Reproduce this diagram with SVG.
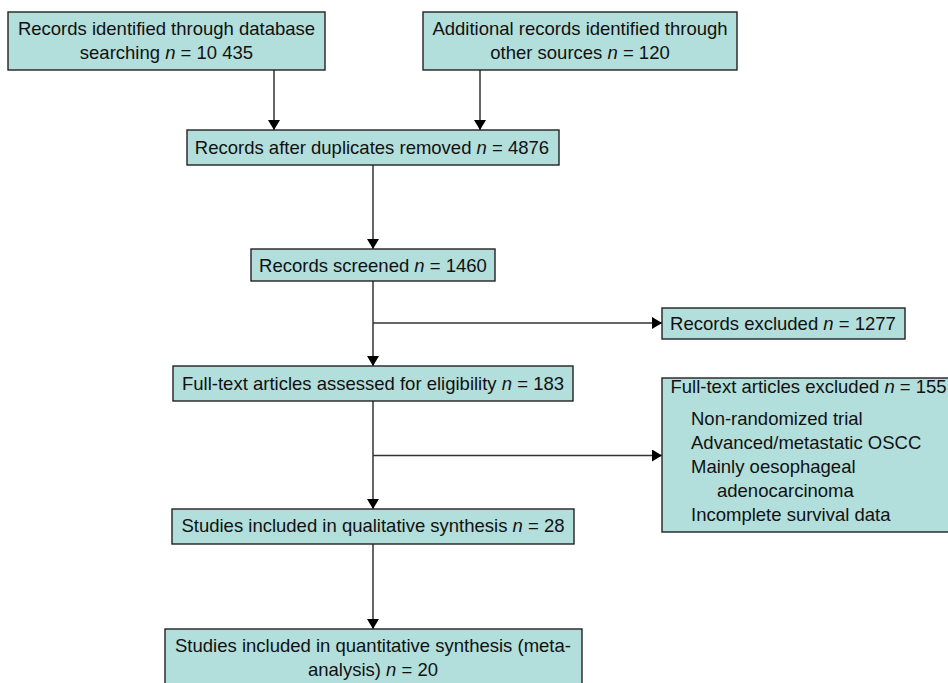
<svg xmlns="http://www.w3.org/2000/svg" width="948" height="683" viewBox="0 0 948 683">
<style>
.box{fill:#b2dedb;stroke:#222;stroke-width:1.4}
.t{font-family:"Liberation Sans",Arial,sans-serif;font-size:18.5px;fill:#111}
.c{text-anchor:middle}
.i{font-style:italic}
.ln{stroke:#333;stroke-width:1.5;fill:none}
</style>
<defs>
<marker id="ah" markerWidth="12" markerHeight="12" refX="10" refY="6" orient="auto" markerUnits="userSpaceOnUse">
<path d="M0,0 L10,6 L0,12 Z" fill="#000"/>
</marker>
</defs>
<rect width="948" height="683" fill="#fff"/>
<g id="connectors">
<line class="ln" x1="274" y1="70" x2="274" y2="130" marker-end="url(#ah)"/>
<line class="ln" x1="480" y1="70" x2="480" y2="130" marker-end="url(#ah)"/>
<line class="ln" x1="373" y1="165" x2="373" y2="249" marker-end="url(#ah)"/>
<line class="ln" x1="373" y1="281" x2="373" y2="366" marker-end="url(#ah)"/>
<line class="ln" x1="373" y1="323" x2="662" y2="323" marker-end="url(#ah)"/>
<line class="ln" x1="373" y1="401" x2="373" y2="509" marker-end="url(#ah)"/>
<line class="ln" x1="373" y1="455.5" x2="662" y2="455.5" marker-end="url(#ah)"/>
<line class="ln" x1="373" y1="544" x2="373" y2="629" marker-end="url(#ah)"/>
</g>
<g id="n1">
<rect class="box" x="8" y="12" width="317" height="58"/>
<text class="t c" x="166.5" y="35">Records identified through database</text>
<text class="t c" x="166.5" y="59">searching <tspan class="i">n</tspan> = 10 435</text>
</g>
<g id="n2">
<rect class="box" x="423" y="12" width="314" height="58"/>
<text class="t c" x="580" y="35">Additional records identified through</text>
<text class="t c" x="580" y="59">other sources <tspan class="i">n</tspan> = 120</text>
</g>
<g id="n3">
<rect class="box" x="187" y="130" width="372" height="35"/>
<text class="t c" x="372" y="153.5">Records after duplicates removed <tspan class="i">n</tspan> = 4876</text>
</g>
<g id="n4">
<rect class="box" x="251" y="249" width="244" height="32"/>
<text class="t c" x="373" y="272">Records screened <tspan class="i">n</tspan> = 1460</text>
</g>
<g id="n5">
<rect class="box" x="662" y="308" width="243" height="31"/>
<text class="t c" x="783" y="329.5">Records excluded <tspan class="i">n</tspan> = 1277</text>
</g>
<g id="n6">
<rect class="box" x="173" y="366" width="400" height="35"/>
<text class="t c" x="373" y="390">Full-text articles assessed for eligibility <tspan class="i">n</tspan> = 183</text>
</g>
<g id="n7">
<rect class="box" x="662" y="378" width="290" height="154"/>
<text class="t" x="670.5" y="392.5">Full-text articles excluded <tspan class="i">n</tspan> = 155</text>
<text class="t" x="691" y="425">Non-randomized trial</text>
<text class="t" x="691" y="449">Advanced/metastatic OSCC</text>
<text class="t" x="691" y="473">Mainly oesophageal</text>
<text class="t" x="717" y="497">adenocarcinoma</text>
<text class="t" x="691" y="521">Incomplete survival data</text>
</g>
<g id="n8">
<rect class="box" x="172" y="509" width="402" height="35"/>
<text class="t c" x="373" y="532">Studies included in qualitative synthesis <tspan class="i">n</tspan> = 28</text>
</g>
<g id="n9">
<rect class="box" x="165" y="629" width="417" height="62"/>
<text class="t c" x="373" y="652">Studies included in quantitative synthesis (meta-</text>
<text class="t c" x="373" y="675.5">analysis) <tspan class="i">n</tspan> = 20</text>
</g>
</svg>
